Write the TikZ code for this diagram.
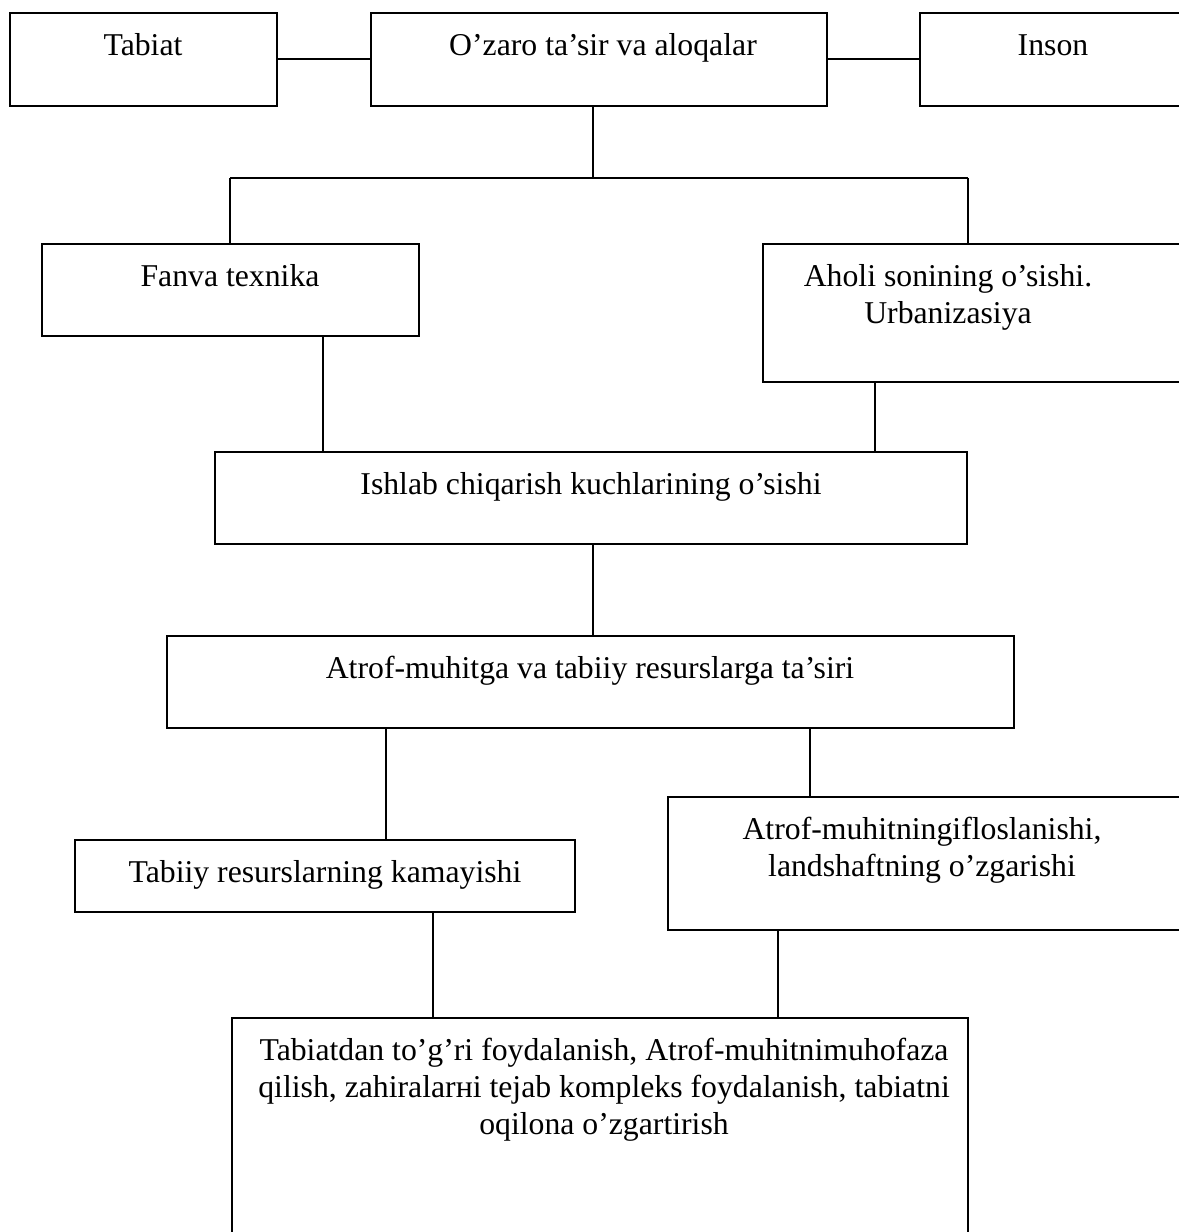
\documentclass[tikz,border=0pt]{standalone}
\usepackage{fontspec}
\setmainfont{Liberation Serif}
\usetikzlibrary{positioning, fit}
\tikzset{
box/.style = { rectangle, draw = black, fill = none, inner sep = 0pt },
lbl/.style = { anchor = north, inner sep = 0pt, align = center, font = \fontsize{12pt}{14pt}\selectfont },
}

\begin{document}
\begin{tikzpicture}[x=0.378pt, y=-0.378pt, line width=0.75pt]
    \useasboundingbox (0,0) rectangle (1179,1232);
    \clip (0,0) rectangle (1179,1232);
    % boxes
    \begin{scope}
      \node[box, fit={(10,13) (277,106)}] (tabiat) {};
      \node[box, fit={(371,13) (827,106)}] (ozaro) {};
      \node[box, fit={(920,13) (1200,106)}] (inson) {};
      \node[box, fit={(42,244) (419,336)}] (fan) {};
      \node[box, fit={(763,244) (1200,382)}] (aholi) {};
      \node[box, fit={(215,452) (967,544)}] (ishlab) {};
      \node[box, fit={(167,636) (1014,728)}] (atrof) {};
      \node[box, fit={(75,840) (575,912)}] (tabiiy) {};
      \node[box, fit={(668,797) (1200,930)}] (ifloslan) {};
      \node[box, fit={(232,1018) (968,1260)}] (foyda) {};
    \end{scope}
    % texts
    \begin{scope}
      \node[lbl] (tabiat text) at (143,32) {Tabiat};
      \node[lbl] (ozaro text) at (603,32) {O’zaro ta’sir va aloqalar};
      \node[lbl] (inson text) at (1053,34) {Inson};
      \node[lbl] (fan text) at (230,263) {Fanva texnika};
      \node[lbl] (aholi text) at (948,263) {Aholi sonining o’sishi.\\Urbanizasiya};
      \node[lbl] (ishlab text) at (591,471) {Ishlab chiqarish kuchlarining o’sishi};
      \node[lbl] (atrof text) at (590,655) {Atrof-muhitga va tabiiy resurslarga ta’siri};
      \node[lbl] (tabiiy text) at (325,859) {Tabiiy resurslarning kamayishi};
      \node[lbl] (ifloslan text) at (922,816) {Atrof-muhitningifloslanishi,\\landshaftning o’zgarishi};
      \node[lbl] (foyda text) at (604,1037) {Tabiatdan to’g’ri foydalanish, Atrof-muhitnimuhofaza\\qilish, zahiralarнi tejab kompleks foydalanish, tabiatni\\oqilona o’zgartirish};
    \end{scope}
    % guides
    \coordinate (top split) at (593,178);
    \coordinate (left split) at (230,178);
    \coordinate (right split) at (968,178);
    \coordinate (g fan) at (323,0);
    \coordinate (g aholi) at (875,0);
    \coordinate (g mid) at (593,0);
    \coordinate (g tabiiy) at (386,0);
    \coordinate (g ifloslan) at (810,0);
    \coordinate (g foyda left) at (433,0);
    \coordinate (g foyda right) at (778,0);
    \begin{scope}[every edge/.style={draw=black}]
      \path [-] (tabiat) edge (ozaro);
      \path [-] (ozaro) edge (inson);
      \path [-] (ozaro.south -| top split) edge (top split);
      \path [-] (left split) edge (right split);
      \path [-] (left split) edge (left split |- fan.north);
      \path [-] (right split) edge (right split |- aholi.north);
      \path [-] (fan.south -| g fan) edge (ishlab.north -| g fan);
      \path [-] (aholi.south -| g aholi) edge (ishlab.north -| g aholi);
      \path [-] (ishlab.south -| g mid) edge (atrof.north -| g mid);
      \path [-] (atrof.south -| g tabiiy) edge (tabiiy.north -| g tabiiy);
      \path [-] (atrof.south -| g ifloslan) edge (ifloslan.north -| g ifloslan);
      \path [-] (tabiiy.south -| g foyda left) edge (foyda.north -| g foyda left);
      \path [-] (ifloslan.south -| g foyda right) edge (foyda.north -| g foyda right);
    \end{scope}
\end{tikzpicture}
\end{document}
